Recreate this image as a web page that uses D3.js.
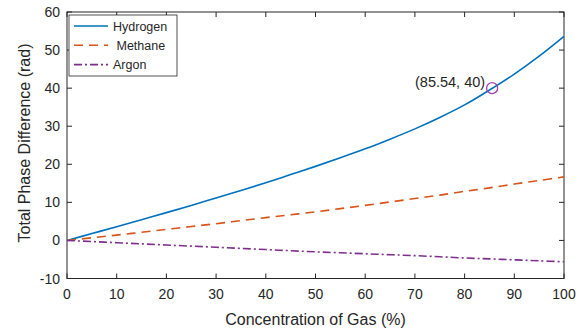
<!DOCTYPE html>
<html><head><meta charset="utf-8">
<script src="https://cdn.jsdelivr.net/npm/d3@7"></script>
<style>body{margin:0;background:#fff}svg{display:block}text{font-family:"Liberation Sans",Arial,sans-serif;fill:#262626}</style>
</head><body><svg id="c" width="586" height="334"></svg>
<script>
const concentration = [0, 5, 10, 15, 20, 25, 30, 35, 40, 45, 50, 55, 60, 65, 70, 75, 80, 85, 90, 95, 100];
const hydrogen = [0, 1.8, 3.6, 5.45, 7.3, 9.2, 11.15, 13.1, 15.15, 17.3, 19.45, 21.7, 24.05, 26.6, 29.3, 32.3, 35.6, 39.5, 43.7, 48.4, 53.6];
const methane = [0, 0.7, 1.4, 2.15, 2.9, 3.65, 4.4, 5.2, 6.0, 6.75, 7.5, 8.35, 9.2, 10.1, 11.0, 11.9, 12.9, 13.8, 14.8, 15.75, 16.7];
const argon = [0, -0.3, -0.6, -0.9, -1.2, -1.5, -1.8, -2.1, -2.4, -2.7, -3.0, -3.25, -3.5, -3.75, -4.0, -4.3, -4.6, -4.85, -5.1, -5.35, -5.6];
const xTicks = [0, 10, 20, 30, 40, 50, 60, 70, 80, 90, 100];
const yTicks = [-10, 0, 10, 20, 30, 40, 50, 60];
const seriesNames = ["Hydrogen", " Methane", "Argon"];
const marker = {x: 85.54, y: 40, label: "(85.54, 40)"};

const svg = d3.select("#c");
const L = 67, R = 564, T = 12, B = 278.5;
const x = d3.scaleLinear().domain([0, 100]).range([L, R]);
const y = d3.scaleLinear().domain([-10, 60]).range([B, T]);

const ax = svg.append("g").attr("stroke", "#262626");
const tl = 5;
svg.append("rect").attr("x", L).attr("y", T).attr("width", R - L).attr("height", B - T)
  .attr("fill", "none").attr("stroke", "#262626").attr("stroke-width", 1);
xTicks.forEach(v => {
  ax.append("line").attr("x1", x(v)).attr("x2", x(v)).attr("y1", B).attr("y2", B - tl);
  ax.append("line").attr("x1", x(v)).attr("x2", x(v)).attr("y1", T).attr("y2", T + tl);
  svg.append("text").attr("x", x(v)).attr("y", B + 20).attr("text-anchor", "middle").attr("font-size", 14).text(v);
});
yTicks.forEach(v => {
  ax.append("line").attr("y1", y(v)).attr("y2", y(v)).attr("x1", L).attr("x2", L + tl);
  ax.append("line").attr("y1", y(v)).attr("y2", y(v)).attr("x1", R).attr("x2", R - tl);
  svg.append("text").attr("x", L - 7).attr("y", y(v) + 5).attr("text-anchor", "end").attr("font-size", 14).text(v);
});

svg.append("text").attr("x", (L + R) / 2).attr("y", 325).attr("text-anchor", "middle").attr("font-size", 16).text("Concentration of Gas (%)");
svg.append("text").attr("transform", `translate(30,143) rotate(-90)`).attr("text-anchor", "middle").attr("font-size", 16).text("Total Phase Difference (rad)");

const colors = ["#0072BD", "#D95319", "#7E2F8E"];
const dashes = [null, "9,6", "8,3,2,3"];
const data = [hydrogen, methane, argon];
const line = d3.line().x(d => x(d[0])).y(d => y(d[1])).curve(d3.curveCatmullRom);
data.forEach((s, i) => {
  svg.append("path").datum(concentration.map((c, j) => [c, s[j]]))
    .attr("d", line).attr("fill", "none").attr("stroke", colors[i]).attr("stroke-width", 1.6)
    .attr("stroke-dasharray", dashes[i]);
});

svg.append("circle").attr("cx", x(marker.x)).attr("cy", y(marker.y)).attr("r", 5.5)
  .attr("fill", "none").attr("stroke", "#A040B0").attr("stroke-width", 1.3);
svg.append("text").attr("x", x(marker.x) - 7).attr("y", y(marker.y) - 1).attr("text-anchor", "end").attr("font-size", 14.5).text(marker.label);

const lg = svg.append("g");
lg.append("rect").attr("x", 69).attr("y", 15).attr("width", 108).attr("height", 61)
  .attr("fill", "#fff").attr("stroke", "#262626").attr("stroke-width", 0.8);
seriesNames.forEach((n, i) => {
  const yy = 26 + i * 19.3;
  lg.append("line").attr("x1", 74).attr("x2", 108).attr("y1", yy).attr("y2", yy)
    .attr("stroke", colors[i]).attr("stroke-width", 1.6).attr("stroke-dasharray", dashes[i]);
  lg.append("text").attr("x", 113).attr("y", yy + 4.5).attr("font-size", 12.5).style("white-space", "pre").text(n);
});
</script></body></html>
